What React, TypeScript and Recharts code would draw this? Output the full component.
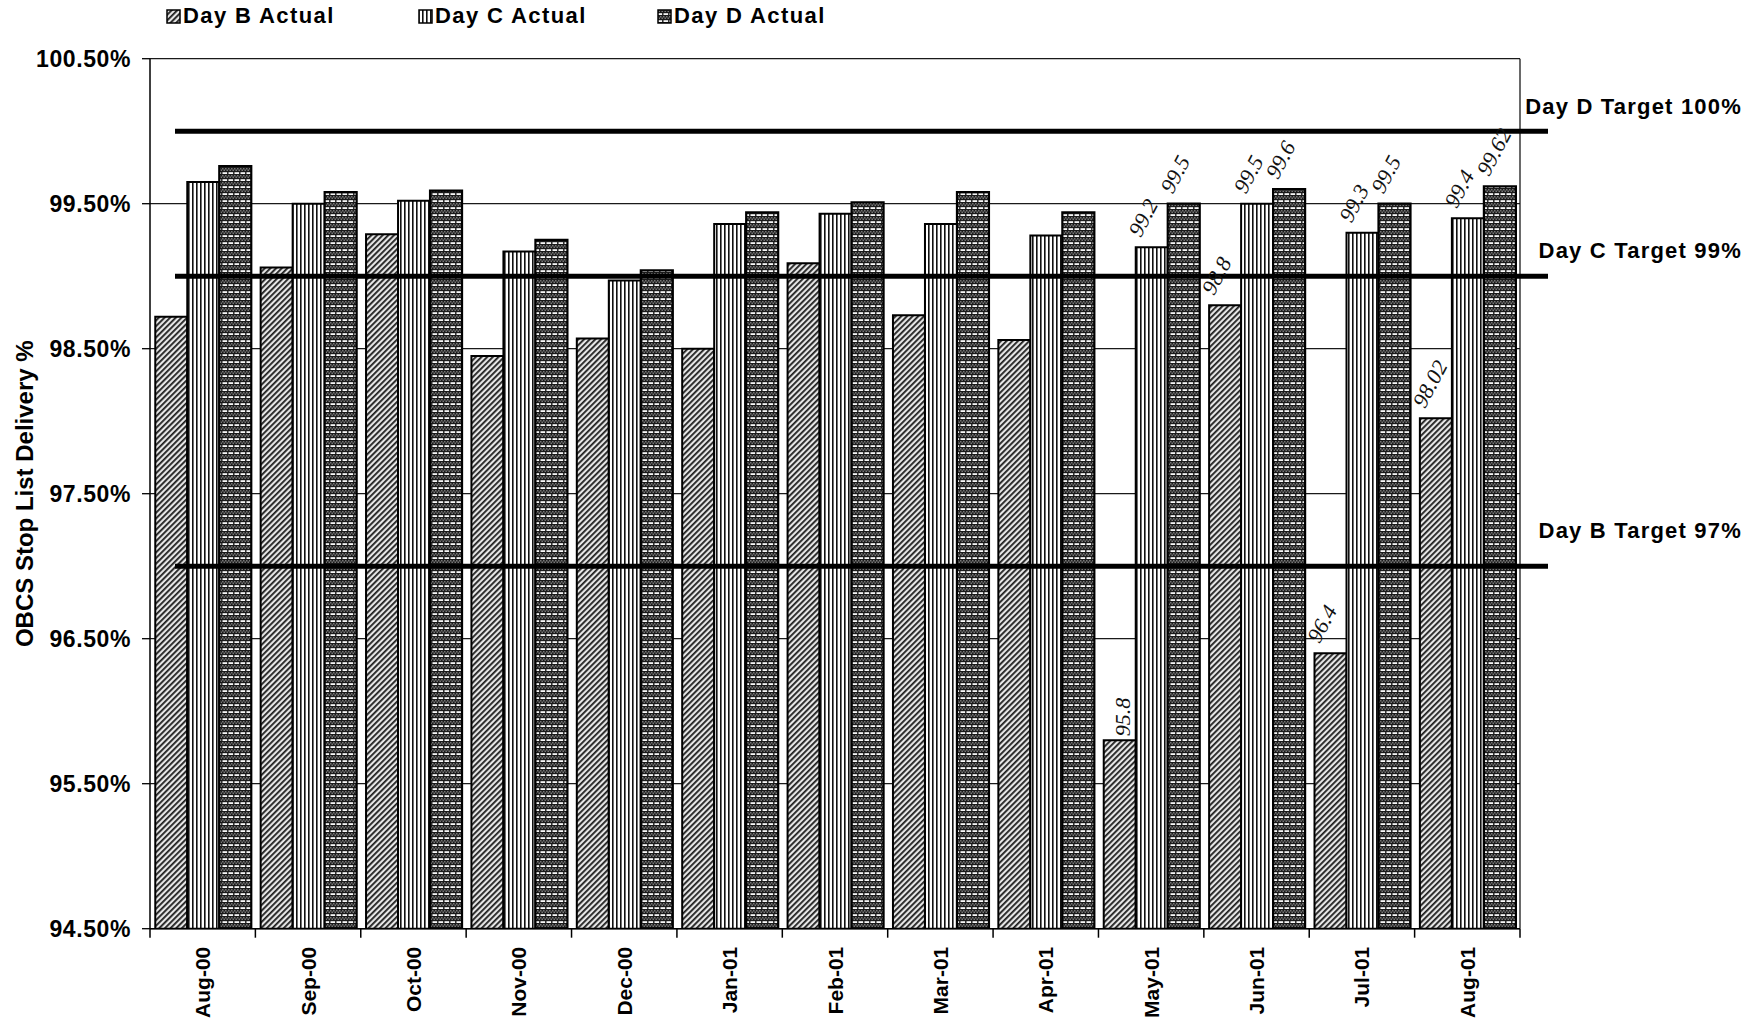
import React from "react";
import {
  BarChart,
  Bar,
  XAxis,
  YAxis,
  CartesianGrid,
  ReferenceLine,
  LabelList,
  Legend,
  Label,
} from "recharts";

// --- Data ---
const months = [
  "Aug-00", "Sep-00", "Oct-00", "Nov-00", "Dec-00", "Jan-01", "Feb-01",
  "Mar-01", "Apr-01", "May-01", "Jun-01", "Jul-01", "Aug-01",
];

const dayB = [98.72, 99.06, 99.29, 98.45, 98.57, 98.5, 99.09, 98.73, 98.56, 95.8, 98.8, 96.4, 98.02];
const dayC = [99.65, 99.5, 99.52, 99.17, 98.97, 99.36, 99.43, 99.36, 99.28, 99.2, 99.5, 99.3, 99.4];
const dayD = [99.76, 99.58, 99.59, 99.25, 99.04, 99.44, 99.51, 99.58, 99.44, 99.5, 99.6, 99.5, 99.62];

// pen notes added by hand on the last four months
const notesB = [null, null, null, null, null, null, null, null, null, "95.8", "98.8", "96.4", "98.02"];
const notesC = [null, null, null, null, null, null, null, null, null, "99.2", "99.5", "99.3", "99.4"];
const notesD = [null, null, null, null, null, null, null, null, null, "99.5", "99.6", "99.5", "99.62"];

const seriesNames = ["Day B Actual", "Day C Actual", "Day D Actual"];
const yTicks = [94.5, 95.5, 96.5, 97.5, 98.5, 99.5, 100.5];

const targetLabels = ["Day D Target 100%", "Day C Target 99%", "Day B Target 97%"];
const targetValues = [100, 99, 97];

const data = months.map((m, i) => ({
  month: m,
  b: dayB[i],
  c: dayC[i],
  d: dayD[i],
  noteB: notesB[i],
  noteC: notesC[i],
  noteD: notesD[i],
}));

// --- Layout ---
const W = 1764;
const H = 1029;
const MARGIN = { top: 58.7, right: 244, bottom: 0, left: 0 };
const Y_AXIS_W = 150;
const X_AXIS_H = 100.3;
const PLOT_W = W - MARGIN.left - MARGIN.right - Y_AXIS_W;
const BAND = PLOT_W / months.length;
const X_TICK_SIZE = 8;
const X_TICK_MARGIN = 10;

const FONT = "'Liberation Sans', Arial, Helvetica, sans-serif";
const PEN = "'Liberation Serif', 'DejaVu Serif', serif";

const fills = ["url(#hatchB)", "url(#stripeC)", "url(#weaveD)"];
const legendLefts = [166, 418, 657];
// how far each target caption sits above its line
const captionLift = [25, 26, 36];

// --- Patterns ---
const Patterns = () => (
  <defs>
    <pattern id="hatchB" width="4" height="4" patternUnits="userSpaceOnUse" patternTransform="rotate(45)">
      <rect width="4" height="4" fill="#e6e6e6" />
      <rect width="1.8" height="4" fill="#1e1e1e" />
    </pattern>
    <pattern id="stripeC" width="4" height="10" patternUnits="userSpaceOnUse">
      <rect width="4" height="10" fill="#ffffff" />
      <rect width="1.6" height="10" fill="#111111" />
    </pattern>
    <pattern id="weaveD" width="6" height="7" patternUnits="userSpaceOnUse">
      <rect width="6" height="7" fill="#1a1a1a" />
      <rect x="0" y="0" width="1.5" height="1.5" fill="#777777" />
      <rect x="3" y="0" width="1.5" height="1.5" fill="#777777" />
      <rect x="1.5" y="1.5" width="1.5" height="1.5" fill="#777777" />
      <rect x="4.5" y="1.5" width="1.5" height="1.5" fill="#777777" />
      <rect x="0.5" y="4.2" width="4.6" height="1.8" fill="#f6f6f6" />
    </pattern>
  </defs>
);

// --- Axis pieces ---
const MonthTick = (props: any) => {
  const { x, y, payload } = props;
  const axisY = y - X_TICK_SIZE - X_TICK_MARGIN;
  const half = BAND / 2;
  return (
    <g>
      {payload.index === 0 && (
        <line x1={x - half} x2={x - half} y1={axisY} y2={axisY + 9} stroke="#000" strokeWidth={1.5} />
      )}
      <line x1={x + half} x2={x + half} y1={axisY} y2={axisY + 9} stroke="#000" strokeWidth={1.5} />
      <text
        x={x}
        y={y}
        dy="0.36em"
        transform={`rotate(-90 ${x} ${y})`}
        textAnchor="end"
        fontFamily={FONT}
        fontWeight={700}
        fontSize={21}
        fill="#000"
      >
        {payload.value}
      </text>
    </g>
  );
};

const YTitle = (props: any) => {
  const vb = props.viewBox || { y: MARGIN.top, height: 870 };
  const cx = 24;
  const cy = vb.y + vb.height / 2;
  return (
    <text
      x={cx}
      y={cy}
      dy="0.36em"
      transform={`rotate(-90 ${cx} ${cy})`}
      textAnchor="middle"
      fontFamily={FONT}
      fontWeight={700}
      fontSize={24}
      fill="#000"
    >
      OBCS Stop List Delivery %
    </text>
  );
};

// Thick target line that runs a little past the plot, caption at the right
const targetShape = (idx: number) => (props: any) => {
  const { x1, x2, y1 } = props;
  return (
    <g>
      <line x1={x1 + 25} x2={x2 + 28} y1={y1} y2={y1} stroke="#000" strokeWidth={5} />
      <text
        x={x2 + 222}
        y={y1 - captionLift[idx]}
        dy="0.36em"
        textAnchor="end"
        fontFamily={FONT}
        fontWeight={700}
        fontSize={22}
        letterSpacing={1.2}
        fill="#000"
      >
        {targetLabels[idx]}
      </text>
    </g>
  );
};

// Hand-written value notes above some bars
const penNote = (uprightIndex: number) => (props: any) => {
  const { x, y, width, value, index } = props;
  if (!value) return null;
  const cx = x + width / 2;
  const upright = index === uprightIndex;
  const sx = upright ? cx + 10 : cx - 11;
  const sy = upright ? y - 4 : y - 9;
  const angle = upright ? -90 : -62;
  return (
    <text
      x={sx}
      y={sy}
      transform={`rotate(${angle} ${sx} ${sy})`}
      fontFamily={PEN}
      fontStyle="italic"
      fontSize={22}
      fill="#111"
    >
      {value}
    </text>
  );
};

const LegendBox = () => (
  <div style={{ position: "relative", width: W, height: 34 }}>
    {seriesNames.map((name, i) => (
      <div
        key={name}
        style={{
          position: "absolute",
          left: legendLefts[i],
          top: 4,
          display: "flex",
          alignItems: "center",
          fontFamily: FONT,
          fontWeight: 700,
          fontSize: 22,
          letterSpacing: 1.4,
          color: "#000",
          lineHeight: "24px",
        }}
      >
        <svg width={15} height={15} style={{ marginRight: 2 }}>
          <rect x={1} y={1} width={13} height={13} fill={fills[i]} stroke="#000" strokeWidth={1.5} />
        </svg>
        {name}
      </div>
    ))}
  </div>
);

export default function App() {
  return (
    <div style={{ width: W, height: H, background: "#fff", position: "relative" }}>
      <style>{"body{margin:0;background:#fff}"}</style>
      <BarChart
        width={W}
        height={H}
        data={data}
        margin={MARGIN}
        barCategoryGap="5%"
        barGap={0}
      >
        <Patterns />
        <CartesianGrid
          vertical
          horizontal
          stroke="#1a1a1a"
          strokeWidth={1.3}
          verticalCoordinatesGenerator={({ offset }: any) => [offset.left + offset.width]}
        />
        <XAxis
          dataKey="month"
          interval={0}
          height={X_AXIS_H}
          tickLine={false}
          tickSize={X_TICK_SIZE}
          tickMargin={X_TICK_MARGIN}
          axisLine={{ stroke: "#000", strokeWidth: 1.5 }}
          tick={<MonthTick />}
        />
        <YAxis
          width={Y_AXIS_W}
          domain={[94.5, 100.5]}
          ticks={yTicks}
          allowDataOverflow
          tickSize={8}
          tickMargin={11}
          tickLine={{ stroke: "#000", strokeWidth: 1.3 }}
          axisLine={{ stroke: "#000", strokeWidth: 1.5 }}
          tickFormatter={(v: number) => `${v.toFixed(2)}%`}
          tick={{ fill: "#000", fontSize: 23, fontWeight: 700, fontFamily: FONT, letterSpacing: 0.6 }}
        >
          <Label content={<YTitle />} />
        </YAxis>

        <Legend
          layout="horizontal"
          verticalAlign="middle"
          align="center"
          wrapperStyle={{ top: 0, left: 0, width: W, height: 34 }}
          content={() => <LegendBox />}
        />

        <Bar dataKey="b" fill={fills[0]} stroke="#000" strokeWidth={2} isAnimationActive={false}>
          <LabelList dataKey="noteB" content={penNote(9)} />
        </Bar>
        <Bar dataKey="c" fill={fills[1]} stroke="#000" strokeWidth={2} isAnimationActive={false}>
          <LabelList dataKey="noteC" content={penNote(-1)} />
        </Bar>
        <Bar dataKey="d" fill={fills[2]} stroke="#000" strokeWidth={2.2} isAnimationActive={false}>
          <LabelList dataKey="noteD" content={penNote(-1)} />
        </Bar>

        {targetValues.map((v, i) => (
          <ReferenceLine key={v} y={v} ifOverflow="visible" shape={targetShape(i)} />
        ))}
      </BarChart>
    </div>
  );
}
